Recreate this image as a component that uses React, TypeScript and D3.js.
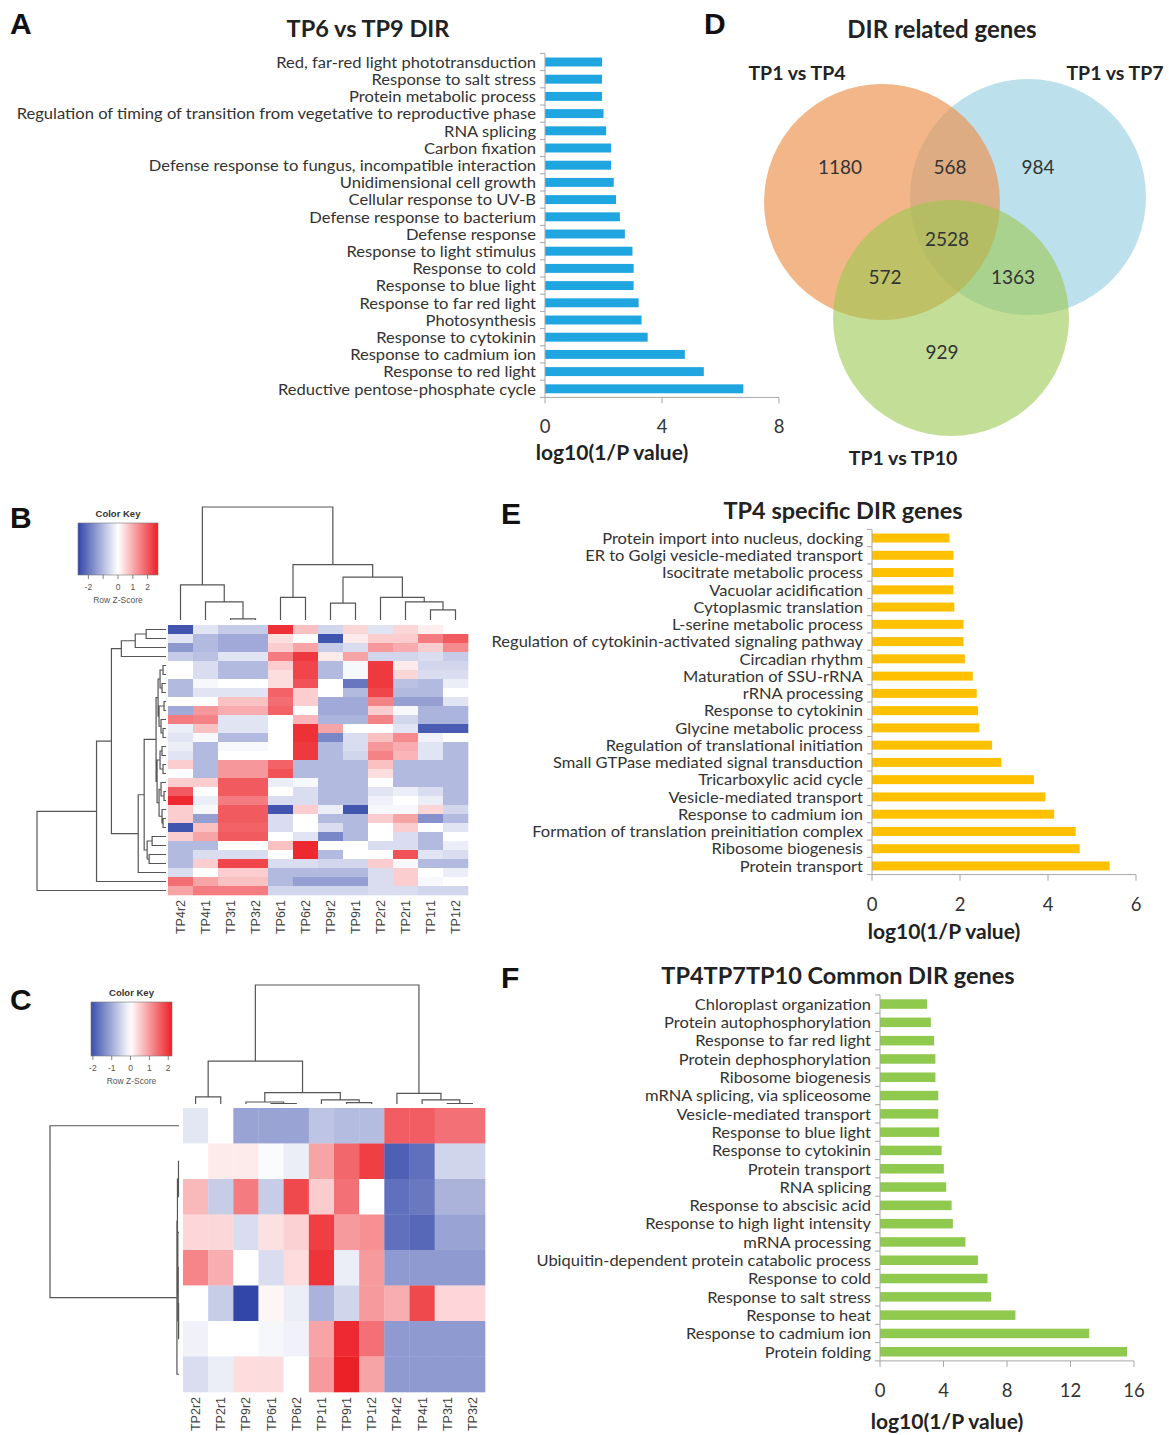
import React from 'react';
import * as d3 from 'd3';

type Tree = number | { h: number; c: Tree[] };

const SANS = 'Lato, "Open Sans", sans-serif';
const ARIAL = '"Liberation Sans", Arial, sans-serif';
const AXIS = '#a6a6a6';

// ---------- A: TP6 vs TP9 DIR ----------
const tp6Tp9Terms = [
  'Red, far-red light phototransduction',
  'Response to salt stress',
  'Protein metabolic process',
  'Regulation of timing of transition from vegetative to reproductive phase',
  'RNA splicing',
  'Carbon fixation',
  'Defense response to fungus, incompatible interaction',
  'Unidimensional cell growth',
  'Cellular response to UV-B',
  'Defense response to bacterium',
  'Defense response',
  'Response to light stimulus',
  'Response to cold',
  'Response to blue light',
  'Response to far red light',
  'Photosynthesis',
  'Response to cytokinin',
  'Response to cadmium ion',
  'Response to red light',
  'Reductive pentose-phosphate cycle',
];
const tp6Tp9Values = [1.95, 1.95, 1.95, 2.0, 2.09, 2.26, 2.26, 2.35, 2.43, 2.56, 2.73, 2.99, 3.03, 3.03, 3.2, 3.3, 3.51, 4.78, 5.43, 6.78];
const tp6Tp9Ticks = [0, 4, 8];

// ---------- E: TP4 specific DIR genes ----------
const tp4Terms = [
  'Protein import into nucleus, docking',
  'ER to Golgi vesicle-mediated transport',
  'Isocitrate metabolic process',
  'Vacuolar acidification',
  'Cytoplasmic translation',
  'L-serine metabolic process',
  'Regulation of cytokinin-activated signaling pathway',
  'Circadian rhythm',
  'Maturation of SSU-rRNA',
  'rRNA processing',
  'Response to cytokinin',
  'Glycine metabolic process',
  'Regulation of translational initiation',
  'Small GTPase mediated signal transduction',
  'Tricarboxylic acid cycle',
  'Vesicle-mediated transport',
  'Response to cadmium ion',
  'Formation of translation preinitiation complex',
  'Ribosome biogenesis',
  'Protein transport',
];
const tp4Values = [1.76, 1.85, 1.85, 1.85, 1.87, 2.08, 2.08, 2.11, 2.29, 2.38, 2.41, 2.44, 2.73, 2.94, 3.68, 3.94, 4.14, 4.63, 4.72, 5.4];
const tp4Ticks = [0, 2, 4, 6];

// ---------- F: TP4TP7TP10 Common DIR genes ----------
const commonTerms = [
  'Chloroplast organization',
  'Protein autophosphorylation',
  'Response to far red light',
  'Protein dephosphorylation',
  'Ribosome biogenesis',
  'mRNA splicing, via spliceosome',
  'Vesicle-mediated transport',
  'Response to blue light',
  'Response to cytokinin',
  'Protein transport',
  'RNA splicing',
  'Response to abscisic acid',
  'Response to high light intensity',
  'mRNA processing',
  'Ubiquitin-dependent protein catabolic process',
  'Response to cold',
  'Response to salt stress',
  'Response to heat',
  'Response to cadmium ion',
  'Protein folding',
];
const commonValues = [2.97, 3.2, 3.41, 3.49, 3.49, 3.67, 3.67, 3.73, 3.88, 4.02, 4.17, 4.51, 4.59, 5.38, 6.17, 6.77, 7.0, 8.53, 13.18, 15.56];
const commonTicks = [0, 4, 8, 12, 16];

// ---------- D: Venn ----------
const vennSetNames = ['TP1 vs TP4', 'TP1 vs TP7', 'TP1 vs TP10'];
const vennRegionCounts = [1180, 568, 984, 2528, 572, 1363, 929];

// ---------- B: heatmap ----------
const heatBCols = ['TP4r2', 'TP4r1', 'TP3r1', 'TP3r2', 'TP6r1', 'TP6r2', 'TP9r2', 'TP9r1', 'TP2r2', 'TP2r1', 'TP1r1', 'TP1r2'];
const heatBValues = [
  [-2.5, -0.4, -0.75, -0.75, 2.5, 0.75, -0.6, 0.5, -0.4, 0.5, 0.2, 0],
  [-0.4, -1.0, -1.25, -1.25, 0.4, 0, -2.5, 0.25, 0.6, 0.6, 1.6, 2.0],
  [-1.5, -1.0, -1.25, -1.25, 0.6, 1.1, -0.75, -0.5, 1.25, 1.0, 0.6, 1.4],
  [-0.75, -0.9, -0.4, -0.4, 1.6, 2.4, 0.25, 1.1, -0.6, -0.6, -0.5, -0.75],
  [0, -0.5, -1.0, -1.0, 0.6, 2.25, -1.0, -0.1, 2.4, 0.25, -0.6, -0.6],
  [0, -0.5, -1.0, -1.0, 0.4, 2.25, -1.0, -0.1, 2.4, 0.5, -0.5, -0.5],
  [-1.0, -0.1, 0, 0, 0.4, 2.1, 0, -2.0, 2.4, -0.9, -1.0, -0.25],
  [-1.0, -0.4, -0.4, -0.4, 1.9, 0.6, 0, -1.0, 2.25, -1.0, -1.0, 0],
  [0, 0, 0.75, 0.75, 1.75, 0.6, -1.25, -1.25, 1.5, -1.4, -1.4, -0.4],
  [-1.25, 1.25, 1.0, 1.0, 1.9, 0, -1.25, -1.25, 0.6, -0.1, -1.1, -1.1],
  [1.6, 1.5, -0.4, -0.4, 0, 0.9, -1.1, -1.1, 1.5, -0.6, -1.1, -1.1],
  [-0.25, 0.75, -0.4, -0.4, 0, 2.5, 1.1, 0, 0, -0.4, -2.4, -2.4],
  [-0.4, -0.1, -1.0, -1.0, 0, 2.5, -1.75, -0.5, 0.75, 1.4, -0.2, 0],
  [-0.25, -1.0, -0.1, -0.1, 0, 2.4, -1.0, -0.5, 1.25, 1.0, -0.4, -1.0],
  [-0.4, -1.0, 0, 0, 0, 2.4, -1.0, -0.6, 1.5, 0.9, -0.4, -1.0],
  [0.6, -1.0, 1.25, 1.25, 1.9, -1.0, -1.0, -1.0, 0.75, -1.0, -1.0, -1.0],
  [0, -1.0, 1.25, 1.25, 2.1, -1.0, -1.0, -1.0, 0.4, -1.0, -1.0, -1.0],
  [0.6, 0.6, 2.0, 2.0, -0.25, -0.1, -1.0, -1.0, 0, -1.0, -1.0, -1.0],
  [2.0, 0, 2.0, 2.0, 0, -0.5, -1.0, -1.0, -0.4, -0.25, -0.5, -1.0],
  [2.6, -0.25, 1.6, 1.6, -0.5, -0.5, -1.0, -1.0, -0.2, 0, -0.25, -1.0],
  [0.6, -0.1, 2.0, 2.0, -2.5, 0.6, -0.25, -2.5, -0.1, -0.1, 0.5, -0.6],
  [0.6, -1.4, 2.0, 2.0, -0.5, 0, -1.0, -1.0, 0.6, 1.1, -1.6, -1.0],
  [-2.5, 0.75, 1.9, 1.9, -0.5, 0, -0.5, -1.0, 0, 0.6, 0, -0.4],
  [0.6, 1.1, 2.0, 2.0, 0, -0.4, -1.75, -1.0, 0, -0.5, -1.0, 0],
  [-1.0, -1.0, 0, 0, 0.75, 2.6, 0, 0, -0.5, -0.5, -1.0, -0.25],
  [-1.0, -0.5, -0.5, -0.5, 0, 2.6, -1.0, 0, 0, 2.1, -0.4, -0.5],
  [-1.0, 0.6, 2.25, 2.25, -0.5, -0.5, -0.6, -0.6, 0.6, -0.1, -1.0, -1.0],
  [-0.5, 0, 0.6, 0.6, -1.0, -1.0, -1.0, -1.0, -0.5, 0.6, 0, -0.25],
  [1.75, 1.1, 0.75, 0.75, -1.0, -1.4, -1.4, -1.4, -0.5, 0.6, -0.1, 0],
  [1.1, 1.6, 1.6, 1.6, -0.6, -0.6, -0.6, -0.6, -0.5, -0.5, -0.6, -0.6],
];
const heatBColTree: Tree = {
  h: 1, c: [
    { h: 0.31, c: [0, { h: 0.16, c: [1, { h: 0.01, c: [2, 3] }] }] },
    { h: 0.49, c: [
      { h: 0.2, c: [4, 5] },
      { h: 0.38, c: [{ h: 0.15, c: [6, 7] }, { h: 0.2, c: [8, { h: 0.16, c: [9, { h: 0.09, c: [10, 11] }] }] }] },
    ] },
  ],
};
const heatBRowTree: Tree = {
  h: 130, c: [
    { h: 70, c: [
      { h: 55, c: [
        { h: 45, c: [{ h: 31, c: [{ h: 20, c: [0, 1] }, 2] }, 3] },
        { h: 28, c: [
          { h: 22, c: [
            { h: 10, c: [
              { h: 8, c: [
                { h: 6, c: [{ h: 3, c: [4, 5] }, { h: 4, c: [6, 7] }] },
                { h: 7, c: [{ h: 2, c: [8, 9] }, { h: 5, c: [10, { h: 3, c: [11, 12] }] }] },
              ] },
              { h: 9, c: [
                { h: 6, c: [{ h: 4, c: [13, 14] }, { h: 3, c: [15, 16] }] },
                { h: 7, c: [{ h: 5, c: [17, { h: 2, c: [18, 19] }] }, { h: 4, c: [20, { h: 3, c: [21, 22] }] }] },
              ] },
            ] },
            { h: 19, c: [{ h: 14, c: [23, 24] }, { h: 17, c: [25, 26] }] },
          ] },
          27,
        ] },
      ] },
      28,
    ] },
    29,
  ],
};
const keyBTicks = [-2, -1, 0, 1, 2];
const keyBLabels = ['-2', '', '0', '1', '2'];

// ---------- C: heatmap ----------
const heatCCols = ['TP2r2', 'TP2r1', 'TP9r2', 'TP6r1', 'TP6r2', 'TP1r1', 'TP9r1', 'TP1r2', 'TP4r2', 'TP4r1', 'TP3r1', 'TP3r2'];
const heatCValues = [
  [-0.3, 0, -1.1, -1.1, -1.1, -0.7, -0.8, -0.8, 1.6, 1.6, 1.4, 1.4],
  [0, 0.2, 0.2, -0.05, -0.2, 0.9, 1.5, 1.9, -1.9, -1.7, -0.5, -0.5],
  [0.7, -0.6, 1.3, -0.6, 1.8, 0.5, 1.4, 0, -1.7, -1.6, -0.9, -0.9],
  [0.4, 0.4, -0.4, 0.3, 0.45, 1.9, 1.0, 1.1, -1.7, -1.8, -1.1, -1.1],
  [1.2, 0.8, 0, -0.4, 0.35, 2.0, -0.2, 1.0, -1.2, -1.2, -1.2, -1.2],
  [0, -0.6, -2.2, 0.1, -0.2, -0.9, -0.5, 1.0, 0.8, 1.8, 0.4, 0.4],
  [-0.15, 0, 0, -0.1, -0.15, 0.9, 2.1, 1.4, -1.2, -1.2, -1.2, -1.2],
  [-0.4, -0.2, 0.35, 0.35, 0, 1.0, 2.2, 0.9, -1.2, -1.2, -1.2, -1.2],
];
const heatCColTree: Tree = {
  h: 1, c: [
    { h: 0.36, c: [
      { h: 0.06, c: [0, 1] },
      { h: 0.096, c: [{ h: 0.017, c: [2, { h: 0.004, c: [3, 4] }] }, { h: 0.034, c: [5, { h: 0.011, c: [6, 7] }] }] },
    ] },
    { h: 0.09, c: [8, { h: 0.034, c: [9, { h: 0.004, c: [10, 11] }] }] },
  ],
};
const heatCRowTree: Tree = {
  h: 1, c: [
    0,
    { h: 0.016, c: [
      { h: 0.012, c: [{ h: 0.004, c: [1, 2] }, { h: 0.009, c: [3, { h: 0.006, c: [4, { h: 0.003, c: [5, 6] }] }] }] },
      7,
    ] },
  ],
};
const keyCTicks = [-2, -1, 0, 1, 2];
const keyCLabels = ['-2', '-1', '0', '1', '2'];

// ---------- helpers ----------
function dendroPath(tree: Tree, leafPos: (i: number) => number, hPos: (h: number) => number, vertical: boolean) {
  const segs: string[] = [];
  const pt = (p: number, h: number) => (vertical ? `${p},${hPos(h)}` : `${hPos(h)},${p}`);
  const walk = (t: Tree): { p: number; h: number } => {
    if (typeof t === 'number') return { p: leafPos(t), h: 0 };
    const kids = t.c.map(walk);
    const a = kids[0];
    const b = kids[kids.length - 1];
    segs.push(`M${pt(a.p, a.h)}L${pt(a.p, t.h)}L${pt(b.p, t.h)}L${pt(b.p, b.h)}`);
    return { p: (a.p + b.p) / 2, h: t.h };
  };
  walk(tree);
  return segs.join('');
}

interface BarProps {
  terms: string[];
  values: number[];
  ticks: number[];
  color: string;
  title: string;
  titleX: number;
  titleY: number;
  axisX: number;
  axisEnd: number;
  top: number;
  bottom: number;
  axisTitleX: number;
  axisTitleY: number;
  labelScale: number;
}

const BarPanel: React.FC<BarProps> = (p) => {
  const x = d3.scaleLinear().domain([0, p.ticks[p.ticks.length - 1]]).range([p.axisX, p.axisEnd]);
  const y = d3.scaleBand<string>().domain(p.terms).range([p.top, p.bottom]).paddingInner(0.48).paddingOuter(0.24);
  const step = y.step();
  const bounds = d3.range(p.terms.length + 1).map((i) => p.top + i * step);
  return (
    <g>
      <text x={p.titleX} y={p.titleY} textAnchor="middle" fontFamily={SANS} fontWeight="bold" fontSize={23.5} fill="#222">
        {p.title}
      </text>
      {p.terms.map((t, i) => (
        <rect key={t} x={x(0)} y={y(t)} width={x(p.values[i]) - x(0)} height={y.bandwidth()} fill={p.color} />
      ))}
      <g transform={`translate(${p.axisX - 9},0) scale(${p.labelScale},1)`}>
        {p.terms.map((t) => (
          <text key={t} x={0} y={(y(t) as number) + y.bandwidth() / 2} dy="0.36em" textAnchor="end" fontFamily={SANS} fontSize={16} fill="#333">
            {t}
          </text>
        ))}
      </g>
      <line x1={p.axisX} x2={p.axisX} y1={p.top} y2={p.bottom} stroke={AXIS} />
      {bounds.map((b, i) => (
        <line key={i} x1={p.axisX - 5} x2={p.axisX} y1={b} y2={b} stroke={AXIS} />
      ))}
      <line x1={p.axisX} x2={p.axisEnd} y1={p.bottom} y2={p.bottom} stroke={AXIS} />
      {p.ticks.map((t) => (
        <g key={t}>
          <line x1={x(t)} x2={x(t)} y1={p.bottom} y2={p.bottom + 6} stroke={AXIS} />
          <text x={x(t)} y={p.bottom + 36} textAnchor="middle" fontFamily={SANS} fontSize={18.5} fill="#333">
            {t}
          </text>
        </g>
      ))}
      <text x={p.axisTitleX} y={p.axisTitleY} textAnchor="middle" fontFamily={SANS} fontWeight="bold" fontSize={21} fill="#222">
        log10(1/P value)
      </text>
    </g>
  );
};

interface HeatProps {
  id: string;
  values: number[][];
  cols: string[];
  colTree: Tree;
  rowTree: Tree;
  rowTreeMax: number;
  x0: number; x1: number; y0: number; y1: number;
  colLeaf: number; colRoot: number;
  rowLeaf: number; rowRoot: number;
  keyDomain: [number, number];
  keyBox: [number, number, number, number];
  keyTicks: number[];
  keyLabels: string[];
}

const Heatmap: React.FC<HeatProps> = (p) => {
  const rows = d3.range(p.values.length);
  const xs = d3.scaleBand<number>().domain(d3.range(p.cols.length)).range([p.x0, p.x1]);
  const ys = d3.scaleBand<number>().domain(rows).range([p.y0, p.y1]);
  const m = Math.max(-p.keyDomain[0], p.keyDomain[1]);
  const color = d3.scaleLinear<string>().domain([-m, 0, m]).range(['#3246a8', '#ffffff', '#ec2027']).clamp(true);
  const colH = d3.scaleLinear().domain([0, 1]).range([p.colLeaf, p.colRoot]);
  const rowH = d3.scaleLinear().domain([0, p.rowTreeMax]).range([p.rowLeaf, p.rowRoot]);
  const colPath = dendroPath(p.colTree, (i) => (xs(i) as number) + xs.bandwidth() / 2, colH, true);
  const rowPath = dendroPath(p.rowTree, (i) => (ys(i) as number) + ys.bandwidth() / 2, rowH, false);
  const [kx, ky, kw, kh] = p.keyBox;
  const kScale = d3.scaleLinear().domain(p.keyDomain).range([kx, kx + kw]);
  const stops = d3.range(0, 1.0001, 0.05);
  return (
    <g>
      <defs>
        <linearGradient id={`key-${p.id}`} x1="0" x2="1" y1="0" y2="0">
          {stops.map((s) => (
            <stop key={s} offset={s} stopColor={color(p.keyDomain[0] + s * (p.keyDomain[1] - p.keyDomain[0]))} />
          ))}
        </linearGradient>
      </defs>
      {p.values.map((row, r) =>
        row.map((v, c) => (
          <rect key={`${r}-${c}`} x={xs(c)} y={ys(r)} width={xs.bandwidth() + 0.3} height={ys.bandwidth() + 0.3} fill={color(v)} />
        ))
      )}
      <path d={colPath} fill="none" stroke="#555" strokeWidth={1.2} />
      <path d={rowPath} fill="none" stroke="#555" strokeWidth={1.2} />
      {p.cols.map((c, i) => (
        <text
          key={c}
          transform={`translate(${(xs(i) as number) + xs.bandwidth() / 2 + 4.5},${p.y1 + 5}) rotate(-90)`}
          textAnchor="end"
          fontFamily={ARIAL}
          fontSize={12.5}
          fill="#444"
        >
          {c}
        </text>
      ))}
      <text x={kx + kw / 2} y={ky - 6} textAnchor="middle" fontFamily={ARIAL} fontWeight="bold" fontSize={9.5} fill="#333">
        Color Key
      </text>
      <rect x={kx} y={ky} width={kw} height={kh} fill={`url(#key-${p.id})`} stroke="#777" strokeWidth={0.6} />
      {p.keyTicks.map((t, i) => (
        <g key={t}>
          <line x1={kScale(t)} x2={kScale(t)} y1={ky + kh} y2={ky + kh + 4} stroke="#666" strokeWidth={0.8} />
          <text x={kScale(t)} y={ky + kh + 15} textAnchor="middle" fontFamily={ARIAL} fontSize={8.5} fill="#555">
            {p.keyLabels[i]}
          </text>
        </g>
      ))}
      <text x={kx + kw / 2} y={ky + kh + 28} textAnchor="middle" fontFamily={ARIAL} fontSize={8.5} fill="#555">
        Row Z-Score
      </text>
    </g>
  );
};

const Venn: React.FC = () => {
  const circles = [
    { name: vennSetNames[1], cx: 1028, cy: 197, fill: '#abd8e7', op: 0.8 },
    { name: vennSetNames[0], cx: 882, cy: 202, fill: '#ee9350', op: 0.68 },
    { name: vennSetNames[2], cx: 951, cy: 318, fill: '#9bc850', op: 0.6 },
  ];
  const spots: [number, number][] = [
    [840, 167], [950, 167], [1038, 167], [947, 239], [885, 277], [1013, 277], [942, 352],
  ];
  const labelPos: [number, number][] = [[797, 80], [1115, 80], [903, 465]];
  return (
    <g>
      <text x={942} y={38} textAnchor="middle" fontFamily={SANS} fontWeight="bold" fontSize={24} fill="#222">
        DIR related genes
      </text>
      {circles.map((c) => (
        <circle key={c.name} cx={c.cx} cy={c.cy} r={118} fill={c.fill} fillOpacity={c.op} />
      ))}
      {vennRegionCounts.map((n, i) => (
        <text key={i} x={spots[i][0]} y={spots[i][1] + 7} textAnchor="middle" fontFamily={SANS} fontSize={19} fill="#333">
          {n}
        </text>
      ))}
      {vennSetNames.map((s, i) => (
        <text key={s} x={labelPos[i][0]} y={labelPos[i][1]} textAnchor="middle" fontFamily={SANS} fontWeight="bold" fontSize={19.5} fill="#222">
          {s}
        </text>
      ))}
    </g>
  );
};

const letters: [string, number, number][] = [
  ['A', 10, 34], ['D', 704, 34], ['B', 10, 528], ['E', 501, 524], ['C', 10, 1010], ['F', 501, 988],
];

export default function App() {
  return (
    <svg width={1169} height={1435} style={{ position: 'absolute', left: 0, top: 0, background: '#fff' }}>
      <rect width={1169} height={1435} fill="#fff" />
      {letters.map(([l, x, y]) => (
        <text key={l} x={x} y={y} fontFamily={ARIAL} fontWeight="bold" fontSize={30} fill="#111">
          {l}
        </text>
      ))}
      <BarPanel
        terms={tp6Tp9Terms} values={tp6Tp9Values} ticks={tp6Tp9Ticks} color="#1fa5df"
        title="TP6 vs TP9 DIR" titleX={368} titleY={37}
        axisX={545} axisEnd={779} top={53.4} bottom={397.4}
        axisTitleX={612} axisTitleY={460} labelScale={1.035}
      />
      <Venn />
      <BarPanel
        terms={tp4Terms} values={tp4Values} ticks={tp4Ticks} color="#ffc000"
        title="TP4 specific DIR genes" titleX={843} titleY={519}
        axisX={872} axisEnd={1136} top={529.4} bottom={874.6}
        axisTitleX={944} axisTitleY={939} labelScale={1.03}
      />
      <BarPanel
        terms={commonTerms} values={commonValues} ticks={commonTicks} color="#8fc94e"
        title="TP4TP7TP10 Common DIR genes" titleX={838} titleY={984}
        axisX={880} axisEnd={1134} top={994.9} bottom={1360.9}
        axisTitleX={947} axisTitleY={1429} labelScale={1.03}
      />
      <Heatmap
        id="b" values={heatBValues} cols={heatBCols} colTree={heatBColTree} rowTree={heatBRowTree} rowTreeMax={130}
        x0={168} x1={468} y0={625} y1={895}
        colLeaf={620} colRoot={507} rowLeaf={166} rowRoot={37}
        keyDomain={[-2.7, 2.7]} keyBox={[78, 523, 80, 52]} keyTicks={keyBTicks} keyLabels={keyBLabels}
      />
      <Heatmap
        id="c" values={heatCValues} cols={heatCCols} colTree={heatCColTree} rowTree={heatCRowTree} rowTreeMax={1}
        x0={183} x1={485} y0={1108} y1={1392}
        colLeaf={1104} colRoot={985} rowLeaf={179} rowRoot={50}
        keyDomain={[-2.1, 2.2]} keyBox={[91, 1002, 81, 54]} keyTicks={keyCTicks} keyLabels={keyCLabels}
      />
    </svg>
  );
}
